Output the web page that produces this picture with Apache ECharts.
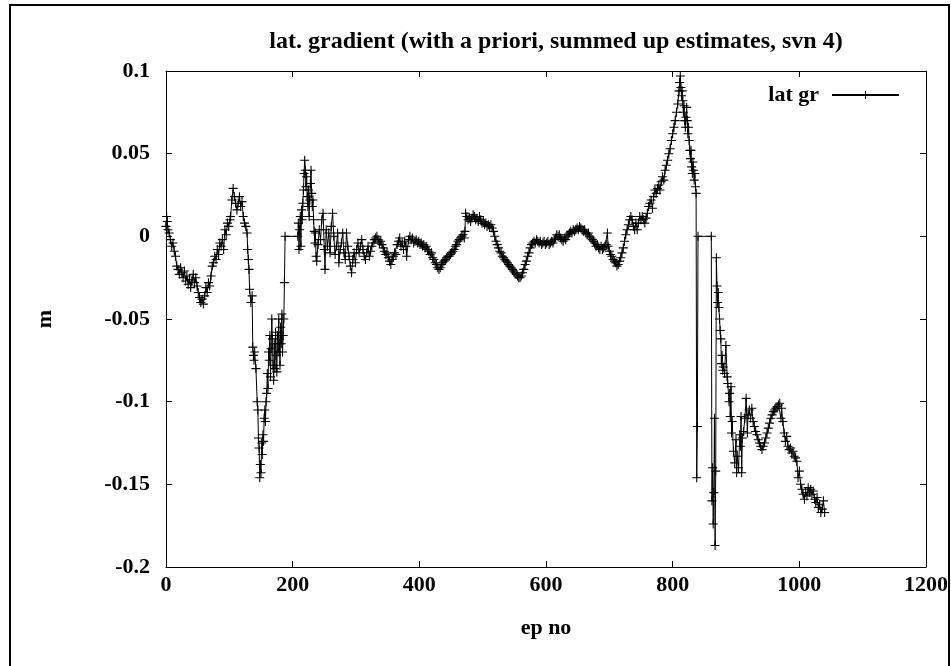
<!DOCTYPE html>
<html>
<head>
<meta charset="utf-8">
<script src="https://cdn.jsdelivr.net/npm/echarts@6/dist/echarts.min.js"></script>
<style>
html,body{margin:0;padding:0;background:#fff;}
#chart{width:951px;height:666px;}
</style>
</head>
<body>
<div id="chart"></div>
<script>
var titleText = 'lat. gradient (with a priori, summed up estimates, svn 4)';
var seriesName = 'lat gr';
var xName = 'ep no';
var yName = 'm';
var xTicks = [0, 200, 400, 600, 800, 1000, 1200];
var yTicks = [-0.2, -0.15, -0.1, -0.05, 0, 0.05, 0.1];

var epochs = [
0,1,2,3,5,7,9,11,13,15,17,19,21,23,25,27,29,31,33,35,37,39,41,43,45,47,49,51,53,55,57,59,61,63,65,67,69,71,73,75,77,79,81,83,85,87,89,91,93,95,97,99,101,102,104,106,108,110,112,114,116,118,120,122,124,126,128,129,130,131,132,134,136,137,138,139,140,142,144,145,146,147,148,149,150,151,152,153,154,155,156,157,158,159,160,161,162,163,164,165,166,167,168,169,170,171,172,173,174,175,176,177,178,179,180,181,182,183,184,185,186,187,188,208,
209,210,211,212,213,214,215,216,217,218,219,220,221,222,223,224,225,226,227,228,229,230,231,232,233,234,235,236,237,238,240,242,244,246,248,250,251,253,255,257,259,261,263,265,267,269,271,273,275,277,279,281,283,285,287,289,291,293,295,297,299,301,303,305,307,309,311,313,315,317,319,321,323,325,327,329,331,333,335,337,339,341,343,345,347,349,351,353,355,357,359,361,363,365,367,369,371,373,375,377,379,380,383,385,387,389,391,393,395,397,399,401,403,405,407,409,411,413,415,417,419,421,423,425,427,429,431,433,435,437,439,441,443,445,447,449,451,453,455,457,459,461,463,465,467,469,471,472,473,475,477,479,481,483,485,487,489,491,493,495,497,499,501,503,505,507,509,511,513,515,517,519,521,523,525,527,529,531,533,535,537,539,541,543,545,547,549,551,553,555,557,559,561,563,565,567,569,571,573,575,577,579,581,583,585,587,589,591,593,595,597,599,
601,603,605,607,609,611,613,615,617,619,621,623,625,627,629,631,633,635,637,639,641,643,645,647,649,651,653,655,657,659,661,663,665,667,669,671,673,675,677,679,681,683,685,687,689,691,693,695,697,698,700,702,704,706,708,710,712,714,716,718,720,722,724,726,728,730,732,734,736,738,740,742,744,746,748,750,752,754,756,758,760,762,764,766,768,770,772,774,776,778,780,782,784,786,788,790,792,794,796,798,800,802,804,806,808,810,811,812,813,814,815,816,817,818,819,820,821,822,823,824,825,826,827,828,829,830,831,832,833,834,835,836,837,838,839,840,861,862,863,864,865,866,867,868,869,870,871,872,873,874,875,876,877,878,879,880,882,884,886,887,889,890,891,892,893,894,896,898,900,901,902,904,906,907,908,909,910,912,914,916,918,919,921,923,925,927,929,931,933,935,937,939,941,943,945,947,949,951,953,955,957,959,961,963,965,967,969,971,972,974,976,978,980,982,984,986,988,990,992,994,996,998,1000,1002,1004,1006,1008,1010,1012,1014,1016,1018,1020,1022,1024,1026,1028,1030,1032,1034,1036,1038,1040,1041
];

var latGr = [
0.006,0.012,0.009,0.004,0.002,-0.002,-0.006,-0.004,-0.009,-0.012,-0.018,-0.02,-0.023,-0.019,-0.022,-0.025,-0.021,-0.027,-0.024,-0.029,-0.026,-0.031,-0.027,-0.023,-0.028,-0.025,-0.03,-0.034,-0.037,-0.04,-0.038,-0.041,-0.036,-0.031,-0.034,-0.028,-0.03,-0.024,-0.018,-0.016,-0.012,-0.014,-0.008,-0.011,-0.004,-0.006,-0.002,-0.008,0.004,0.001,0.008,0.006,0.01,0.012,0.022,0.029,0.024,0.02,0.016,0.02,0.024,0.018,0.021,0.012,0.008,0.006,0.002,-0.008,-0.014,-0.02,-0.032,-0.04,-0.036,-0.067,-0.072,-0.075,-0.07,-0.08,-0.1,-0.105,-0.122,-0.128,-0.146,-0.138,-0.143,-0.125,-0.132,-0.12,-0.124,-0.11,-0.105,-0.112,-0.1,-0.095,-0.083,-0.092,-0.07,-0.075,-0.06,-0.085,-0.068,-0.05,-0.062,-0.078,-0.087,-0.065,-0.08,-0.058,-0.072,-0.082,-0.06,-0.07,-0.05,-0.065,-0.078,-0.055,-0.065,-0.047,-0.07,-0.06,-0.05,-0.028,0,0,
0.008,-0.008,0.004,0.012,-0.006,0.016,0.01,0.02,0.028,0.038,0.046,0.04,0.03,0.036,0.024,0.018,0.028,0.012,0.022,0.032,0.04,0.026,0.018,0.022,0.01,0.003,-0.004,0.002,-0.012,-0.015,-0.005,0.004,-0.002,0.01,0.014,-0.008,-0.02,0.004,-0.006,0.002,-0.01,0.006,0.014,0,-0.011,-0.006,0.002,-0.016,-0.008,-0.004,0.002,-0.01,-0.014,0.002,-0.006,-0.012,-0.018,-0.022,-0.014,-0.01,-0.016,-0.008,-0.004,-0.01,-0.006,-0.002,-0.008,-0.012,-0.014,-0.01,-0.006,-0.012,-0.009,-0.006,-0.004,-0.002,-0.001,0,-0.002,-0.004,-0.003,-0.005,-0.007,-0.009,-0.011,-0.01,-0.013,-0.015,-0.017,-0.014,-0.012,-0.01,-0.011,-0.005,-0.003,-0.001,-0.006,-0.004,-0.008,-0.003,-0.006,-0.012,-0.002,0,-0.002,-0.001,-0.004,-0.003,-0.002,-0.004,-0.003,-0.005,-0.004,-0.006,-0.005,-0.007,-0.006,-0.008,-0.009,-0.011,-0.01,-0.013,-0.014,-0.016,-0.017,-0.019,-0.02,-0.019,-0.017,-0.016,-0.015,-0.014,-0.013,-0.012,-0.012,-0.011,-0.01,-0.009,-0.008,-0.006,-0.005,-0.003,-0.002,-0.001,0,0.001,-0.001,0.003,0.014,0.012,0.01,0.011,0.009,0.011,0.013,0.012,0.01,0.011,0.009,0.012,0.01,0.008,0.009,0.007,0.008,0.006,0.007,0.006,0.007,0.005,0.003,0,-0.003,-0.005,-0.007,-0.009,-0.01,-0.012,-0.013,-0.014,-0.015,-0.016,-0.017,-0.018,-0.019,-0.02,-0.021,-0.022,-0.023,-0.024,-0.025,-0.025,-0.024,-0.022,-0.02,-0.017,-0.015,-0.012,-0.01,-0.007,-0.005,-0.004,-0.003,-0.004,-0.002,-0.003,-0.004,-0.003,-0.005,-0.004,-0.003,-0.005,
-0.004,-0.003,-0.005,-0.004,-0.003,-0.004,-0.002,-0.001,0.001,0,0.001,-0.001,-0.002,-0.003,-0.001,-0.002,0,0.001,0.002,0.003,0.002,0.004,0.003,0.004,0.005,0.004,0.006,0.005,0.004,0.003,0.004,0.002,0.001,0.002,0,-0.001,-0.002,-0.003,-0.004,-0.006,-0.005,-0.007,-0.008,-0.006,-0.008,-0.007,-0.006,-0.005,0.002,-0.006,-0.009,-0.011,-0.012,-0.014,-0.015,-0.016,-0.018,-0.017,-0.015,-0.013,-0.01,-0.007,-0.003,0.001,0.004,0.007,0.01,0.012,0.01,0.006,0.004,0.008,0.004,0.008,0.012,0.01,0.012,0.01,0.008,0.011,0.014,0.018,0.02,0.022,0.017,0.024,0.028,0.026,0.029,0.031,0.028,0.033,0.036,0.034,0.04,0.043,0.046,0.05,0.053,0.058,0.062,0.066,0.07,0.075,0.08,0.088,0.093,0.097,0.09,0.085,0.088,0.082,0.075,0.079,0.07,0.066,0.072,0.078,0.07,0.062,0.066,0.058,0.052,0.047,0.052,0.042,0.038,0.045,0.04,0.034,0.038,0.03,0.026,-0.146,-0.115,0,0,-0.16,-0.14,-0.174,-0.155,-0.11,-0.187,-0.142,-0.013,-0.03,-0.04,-0.034,-0.043,-0.05,-0.057,-0.062,-0.077,-0.072,-0.081,-0.079,-0.083,-0.066,-0.085,-0.089,-0.1,-0.095,-0.109,-0.091,-0.119,-0.112,-0.13,-0.137,-0.123,-0.143,-0.133,-0.14,-0.12,-0.127,-0.109,-0.143,-0.122,-0.118,-0.11,-0.098,-0.119,-0.108,-0.105,-0.11,-0.104,-0.112,-0.115,-0.118,-0.12,-0.123,-0.125,-0.127,-0.129,-0.127,-0.125,-0.122,-0.119,-0.116,-0.113,-0.11,-0.108,-0.106,-0.105,-0.104,-0.103,-0.102,-0.101,-0.11,-0.104,-0.112,-0.119,-0.124,-0.121,-0.127,-0.129,-0.128,-0.131,-0.13,-0.133,-0.134,-0.136,-0.146,-0.142,-0.15,-0.153,-0.156,-0.159,-0.155,-0.157,-0.152,-0.155,-0.153,-0.156,-0.154,-0.159,-0.161,-0.158,-0.164,-0.162,-0.167,-0.165,-0.16,-0.167
];

var points = epochs.map(function (e, i) { return [e, latGr[i]]; });

var FONT = '"Liberation Serif", "Times New Roman", serif';
var PLUS = 'path://M0,4.4H10V5.6H0Z M4.4,0H5.6V10H4.4Z';

var chart = echarts.init(document.getElementById('chart'), null, {renderer: 'canvas'});

function fmtY(v) {
  var r = Math.round(v * 100) / 100;
  return String(r);
}
function fmtX(v) {
  return String(Math.round(v));
}

var tickFont = {fontFamily: FONT, fontWeight: 'bold', fontSize: 22, color: '#000'};

var option = {
  animation: false,
  backgroundColor: '#ffffff',
  title: {
    text: titleText,
    left: 551,
    textAlign: 'center',
    top: 25,
    textStyle: {fontFamily: FONT, fontWeight: 'bold', fontSize: 24, color: '#000'}
  },
  legend: {
    data: [{name: seriesName}],
    right: 51,
    top: 84,
    padding: 0,
    align: 'right',
    itemWidth: 67,
    itemHeight: 10,
    textStyle: {fontFamily: FONT, fontWeight: 'bold', fontSize: 22, color: '#000', padding: [0, 8, 0, 0]}
  },
  grid: {left: 166, right: 24, top: 71, bottom: 99, containLabel: false},
  xAxis: [{
    type: 'value', min: xTicks[0], max: xTicks[xTicks.length - 1], interval: 200,
    name: xName, nameLocation: 'middle', nameGap: 50,
    nameTextStyle: tickFont,
    axisLine: {show: true, onZero: false, lineStyle: {color: '#000', width: 1}},
    axisTick: {show: true, inside: true, length: 6, lineStyle: {color: '#000'}},
    axisLabel: Object.assign({margin: 7, formatter: fmtX}, tickFont),
    splitLine: {show: false}
  }, {
    type: 'value', position: 'top', min: xTicks[0], max: xTicks[xTicks.length - 1], interval: 200,
    axisLine: {show: true, onZero: false, lineStyle: {color: '#000', width: 1}},
    axisTick: {show: true, inside: true, length: 6, lineStyle: {color: '#000'}},
    axisLabel: {show: false},
    splitLine: {show: false}
  }],
  yAxis: [{
    type: 'value', min: yTicks[0], max: yTicks[yTicks.length - 1], interval: 0.05,
    name: yName, nameLocation: 'middle', nameGap: 110, nameRotate: 90,
    nameTextStyle: tickFont,
    axisLine: {show: true, onZero: false, lineStyle: {color: '#000', width: 1}},
    axisTick: {show: true, inside: true, length: 6, lineStyle: {color: '#000'}},
    axisLabel: Object.assign({margin: 16, formatter: fmtY}, tickFont),
    splitLine: {show: false}
  }, {
    type: 'value', position: 'right', min: yTicks[0], max: yTicks[yTicks.length - 1], interval: 0.05,
    axisLine: {show: true, onZero: false, lineStyle: {color: '#000', width: 1}},
    axisTick: {show: true, inside: true, length: 6, lineStyle: {color: '#000'}},
    axisLabel: {show: false},
    splitLine: {show: false}
  }],
  graphic: [{
    type: 'rect', silent: true, z: 100,
    shape: {x: 10, y: 5, width: 939, height: 700},
    style: {fill: 'none', stroke: '#000', lineWidth: 2}
  }],
  series: [{
    name: seriesName,
    type: 'line',
    data: points,
    xAxisIndex: 0, yAxisIndex: 0,
    symbol: PLUS,
    symbolSize: 9,
    showAllSymbol: true,
    sampling: null,
    lineStyle: {color: '#000', width: 1},
    itemStyle: {color: '#000'},
    emphasis: {disabled: true}
  }]
};
chart.setOption(option);
</script>
</body>
</html>
